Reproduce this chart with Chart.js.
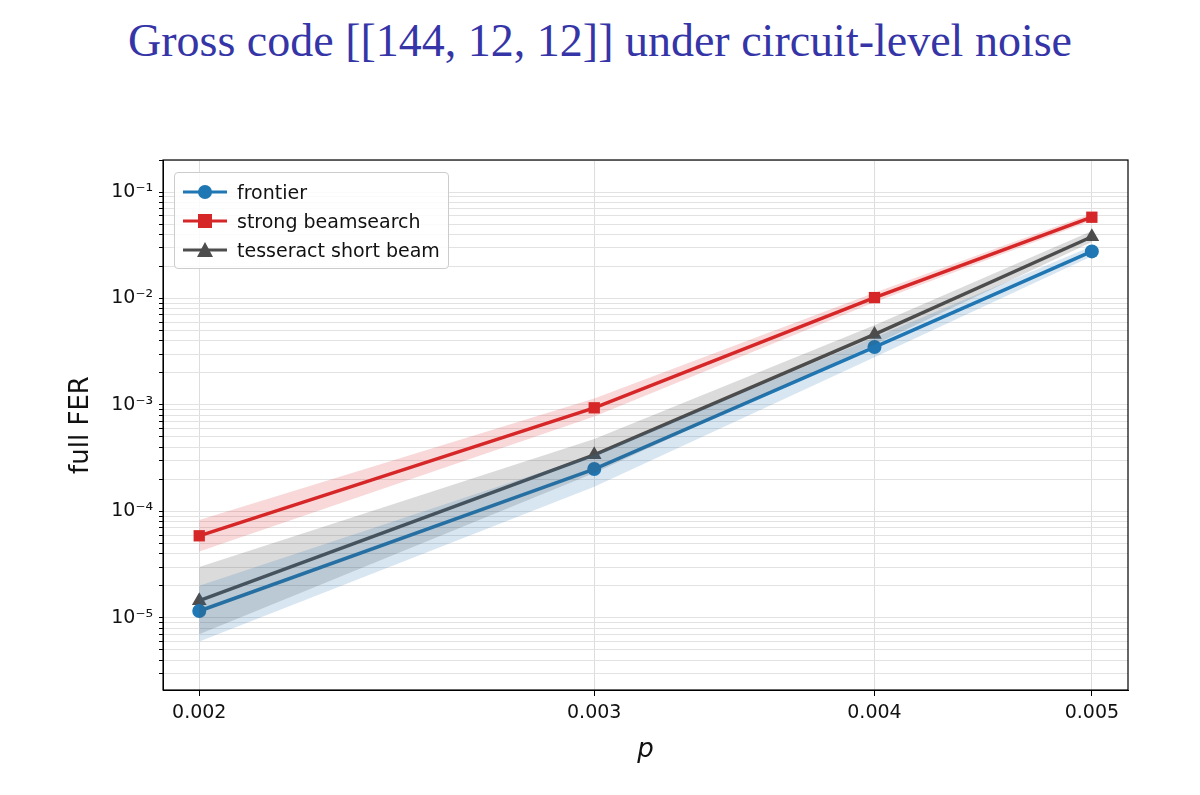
<!DOCTYPE html>
<html><head><meta charset="utf-8">
<script src="https://cdn.jsdelivr.net/npm/chart.js@4/dist/chart.umd.min.js"></script>
<style>
body{margin:0;background:#fff;width:1200px;height:795px;overflow:hidden;position:relative}
#title{position:absolute;top:14px;left:0;width:1200px;text-align:center;font-family:"Liberation Serif","DejaVu Serif",serif;font-size:46px;color:#3535a8}
#wrap{position:absolute;left:0;top:0;width:1200px;height:795px}
#legend{position:absolute;left:174px;top:172px;border:1px solid #ccc;border-radius:4px;background:rgba(255,255,255,0.85);padding:4px 8px;font-family:"DejaVu Sans",sans-serif;font-size:19px;color:#111}
#legend div{display:flex;align-items:center;height:29px}
#legend svg{margin-right:10px}
</style></head><body>
<div id="title">Gross code [[144, 12, 12]] under circuit-level noise</div>
<div id="wrap"><canvas id="c" width="1200" height="795"></canvas></div>
<div id="legend"></div>
<script>
const pValues=[0.002,0.003,0.004,0.005];
const seriesNames=["frontier","strong beamsearch","tesseract short beam"];
const frontier=[1.16e-5,2.5e-4,3.5e-3,0.0277];
const frontierLo=[6e-6,1.7e-4,2.8e-3,0.025];
const frontierHi=[2.0e-5,3.4e-4,4.3e-3,0.031];
const strong=[5.9e-5,9.4e-4,0.0102,0.058];
const strongLo=[4.2e-5,7.8e-4,9.2e-3,0.054];
const strongHi=[8.3e-5,1.15e-3,0.0113,0.063];
const tess=[1.45e-5,3.4e-4,4.6e-3,0.038];
const tessLo=[7e-6,2.3e-4,3.7e-3,0.034];
const tessHi=[3.0e-5,4.8e-4,5.6e-3,0.043];
const yMajor=[1e-5,1e-4,1e-3,1e-2,1e-1];
const yLabels=["10⁻⁵","10⁻⁴","10⁻³","10⁻²","10⁻¹"];
const colors=["#1f77b4","#d62728","#4d4d4d"];
const bandColors=["rgba(31,119,180,0.18)","rgba(214,39,40,0.18)","rgba(77,77,77,0.2)"];
const styles=["circle","rect","triangle"];
const radii=[7,8,8.5];
const mains=[frontier,strong,tess],los=[frontierLo,strongLo,tessLo],his=[frontierHi,strongHi,tessHi];
const pts=a=>a.map((v,i)=>({x:pValues[i],y:v}));
const ds=[];
for(let k=0;k<3;k++){
 ds.push({data:pts(los[k]),borderWidth:0,pointRadius:0,fill:false,backgroundColor:bandColors[k]});
 ds.push({data:pts(his[k]),borderWidth:0,pointRadius:0,fill:'-1',backgroundColor:bandColors[k]});
}
for(let k=0;k<3;k++){
 ds.push({label:seriesNames[k],data:pts(mains[k]),borderColor:colors[k],backgroundColor:colors[k],borderWidth:3.5,pointStyle:styles[k],pointRadius:radii[k],pointBorderWidth:0,fill:false});
}
const frame={id:'frame',afterDraw(c){const a=c.chartArea,x=c.ctx;x.save();x.strokeStyle='#000';x.lineWidth=1.2;x.strokeRect(a.left,a.top,a.right-a.left,a.bottom-a.top);x.restore();}};
new Chart(document.getElementById('c'),{type:'line',data:{datasets:ds},plugins:[frame],
options:{responsive:false,animation:false,
layout:{padding:{top:160,left:62,right:72,bottom:25}},
plugins:{legend:{display:false},tooltip:{enabled:false}},
scales:{
x:{type:'logarithmic',min:0.001927,max:0.005189,
 afterBuildTicks(s){s.ticks=pValues.map(v=>({value:v}));},
 ticks:{callback:v=>v.toFixed(3),font:{family:'DejaVu Sans',size:19},color:'#111',maxRotation:0,padding:6},
 grid:{color:'#dddddd',drawTicks:true,tickColor:'#000',tickLength:6},border:{color:'#000'},
 title:{display:true,text:'p',font:{family:'DejaVu Sans',size:26,style:'italic'},color:'#111',padding:{top:4}}},
y:{type:'logarithmic',min:2.1e-6,max:0.2,
 afterBuildTicks(s){const t=[];for(let e=-6;e<=-1;e++)for(let m=1;m<=9;m++){const v=m*Math.pow(10,e);if(v>=2.1e-6&&v<=0.2)t.push({value:v});}s.ticks=t;},
 ticks:{autoSkip:false,callback:v=>{const i=yMajor.findIndex(m=>Math.abs(m-v)/m<1e-6);return i>=0?yLabels[i]:'';},font:{family:'DejaVu Sans',size:19},color:'#111',padding:6},
 grid:{color:'#e2e2e2',tickColor:'#000',tickLength:4},border:{color:'#000'},
 title:{display:true,text:'full FER',font:{family:'DejaVu Sans',size:26},color:'#111',padding:{bottom:8}}}
}}});
const lg=document.getElementById('legend');
const svgs=['<circle cx="22" cy="10" r="7" fill="#1f77b4"/>','<rect x="15" y="3" width="14" height="14" fill="#d62728"/>','<polygon points="22,2 30,17 14,17" fill="#4d4d4d"/>'];
seriesNames.forEach((n,k)=>{lg.innerHTML+=`<div><svg width="44" height="20"><line x1="0" y1="10" x2="44" y2="10" stroke="${colors[k]}" stroke-width="3"/>${svgs[k]}</svg>${n}</div>`;});
</script></body></html>
